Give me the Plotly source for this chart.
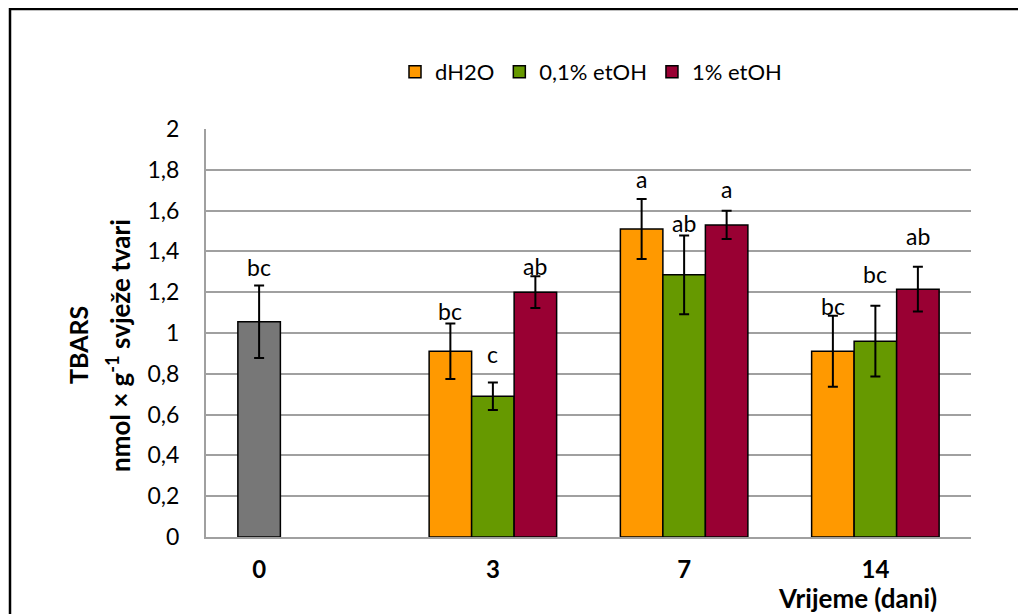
import plotly.graph_objects as go

# ---- data ----
days = ["0", "3", "7", "14"]
series_names = ["dH2O", "0,1% etOH", "1% etOH"]
dh2o = [1.055, 0.91, 1.51, 0.91]
dh2o_err = [0.178, 0.136, 0.147, 0.174]
etoh01 = [None, 0.69, 1.285, 0.96]
etoh01_err = [None, 0.067, 0.193, 0.173]
etoh1 = [None, 1.20, 1.53, 1.215]
etoh1_err = [None, 0.078, 0.069, 0.11]
letters_dh2o = ["bc", "bc", "a", "bc"]
letters_01 = [None, "c", "ab", "bc"]
letters_1 = [None, "ab", "a", "ab"]

# ---- style / layout ----
OFF = 8  # default page body margin
W, H = 1026 - OFF, 614 - OFF
PLOT_L, PLOT_R, PLOT_T, PLOT_B = 206, 971, 129, 537  # page pixels
ML, MT = PLOT_L - OFF, PLOT_T - OFF
MR, MB = W - (PLOT_R - OFF), H - (PLOT_B - OFF)
PW, PH = PLOT_R - PLOT_L, PLOT_B - PLOT_T
BARGAP = 1 / 3
BW = (1 - BARGAP) / 3  # bar width in category units
colors = ["#FF9900", "#669900", "#990033"]
gray = "#777777"
FONT = "Lato"
# pixel shifts of letter labels above error-bar tops
shift_dh2o = [18, 13, 20, 10]
shift_01 = [0, 29, 12, 32]
shift_1 = [0, 10, 22, 31]

xidx = list(range(len(days)))
groups = ["g0", "g1", "g2"]

def px_x(p):
    return (p - PLOT_L) / PW

def px_y(p):
    return (PLOT_B - p) / PH

fig = go.Figure()
all_series = [(dh2o, dh2o_err), (etoh01, etoh01_err), (etoh1, etoh1_err)]
for k, (vals, errs) in enumerate(all_series):
    mcol = [gray if (k == 0 and i == 0) else colors[k] for i in xidx]
    # legend entry in the series colour (shares the same slot)
    fig.add_trace(go.Bar(
        x=[None], y=[None], name=series_names[k], offsetgroup=groups[k],
        marker=dict(color=colors[k], line=dict(color="black", width=1.5)),
        showlegend=True, hoverinfo="skip"))
    fig.add_trace(go.Bar(
        x=xidx, y=vals, name=series_names[k], offsetgroup=groups[k], showlegend=False,
        marker=dict(color=mcol, line=dict(color="black", width=1.5)),
        error_y=dict(type="data", array=[e if e is not None else 0 for e in errs],
                     color="black", thickness=2, width=5, visible=True),
    ))

annotations = []
all_letters = [letters_dh2o, letters_01, letters_1]
all_shifts = [shift_dh2o, shift_01, shift_1]
for k, (vals, errs) in enumerate(all_series):
    for i in xidx:
        lab = all_letters[k][i]
        if lab is None:
            continue
        off = (k - 1) * BW
        if i == 0:
            off = -BW
        annotations.append(dict(
            x=i + off, y=vals[i] + errs[i], xref="x", yref="y",
            text=lab, showarrow=False, yanchor="middle", yshift=all_shifts[k][i],
            font=dict(family=FONT, size=23, color="black")))

annotations += [
    dict(x=px_x(78), y=px_y(345), xref="paper", yref="paper", text="<b>TBARS</b>",
         textangle=-90, showarrow=False, font=dict(family=FONT, size=25, color="black"),
         xanchor="center", yanchor="middle"),
    dict(x=px_x(118), y=px_y(346), xref="paper", yref="paper",
         text="<b>nmol × g<sup>-1</sup> svježe tvari</b>",
         textangle=-90, showarrow=False, font=dict(family=FONT, size=26, color="black"),
         xanchor="center", yanchor="middle"),
    dict(x=px_x(857), y=px_y(598), xref="paper", yref="paper", text="<b>Vrijeme (dani)</b>",
         showarrow=False, font=dict(family=FONT, size=26, color="black"),
         xanchor="center", yanchor="middle"),
]

tickvals = [i - BW if i == 0 else i for i in xidx]

fig.update_layout(
    width=W, height=H,
    margin=dict(l=ML, r=MR, t=MT, b=MB, autoexpand=False),
    paper_bgcolor="white", plot_bgcolor="white",
    barmode="group", bargap=BARGAP, bargroupgap=0,
    font=dict(family=FONT, size=21, color="black"),
    showlegend=True,
    legend=dict(orientation="h", x=px_x(591), xanchor="center", y=px_y(72), yanchor="middle",
                font=dict(family=FONT, size=22, color="black"),
                traceorder="normal"),
    annotations=annotations,
    separators=", ",
    shapes=[dict(type="rect", xref="paper", yref="paper",
                 x0=px_x(10), x1=px_x(1060), y0=px_y(9), y1=px_y(660),
                 line=dict(color="black", width=2.5), layer="below")],
)
fig.update_xaxes(range=[-0.5, len(days) - 0.5], tickvals=tickvals, ticktext=days,
                 showgrid=False, showline=True, linecolor="#A0A0A0", linewidth=2,
                 ticks="", tickfont=dict(family=FONT, size=24, color="black", weight="bold"),
                 ticklabelstandoff=10, zeroline=False)
fig.update_yaxes(range=[0, 2], dtick=0.2, tickformat=".1~f",
                 showgrid=True, gridcolor="#A0A0A0", gridwidth=1.5,
                 showline=True, linecolor="#A0A0A0", linewidth=2, ticks="",
                 tickfont=dict(family=FONT, size=23, color="black"),
                 ticklabelstandoff=20, zeroline=False)

fig.write_html("out.html")
